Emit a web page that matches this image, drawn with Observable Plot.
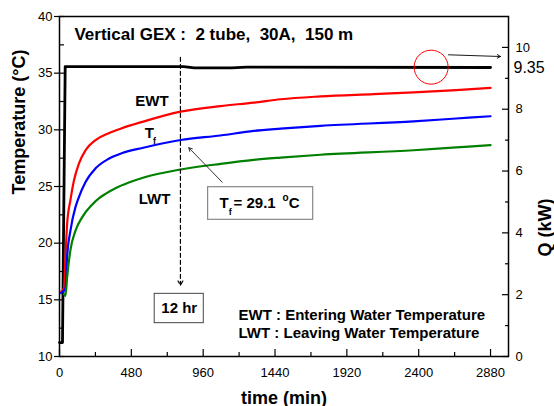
<!DOCTYPE html>
<html><head><meta charset="utf-8">
<script src="https://cdn.jsdelivr.net/npm/d3@7"></script>
<script src="https://cdn.jsdelivr.net/npm/@observablehq/plot@0.6"></script>
<style>
body{margin:0;background:#fff;}
svg{font-family:"Liberation Sans", Arial, sans-serif;}
</style></head><body><div id="chart"></div>
<script>
// ---- data (time in min, temperature in °C, Q in kW) ----
const ewtTime = [10, 29, 40, 51, 73, 96, 129, 174, 241, 329, 419, 553, 809, 1076, 1298, 1477, 1744, 2100, 2366, 2650, 2880];
const ewtVal  = [15.7, 16.0, 18.8, 21.7, 23.8, 25.5, 27.0, 28.2, 29.1, 29.7, 30.15, 30.7, 31.6, 32.1, 32.4, 32.7, 32.95, 33.15, 33.3, 33.5, 33.7];

const tfTime = [10, 40, 51, 73, 107, 122, 174, 241, 329, 419, 553, 809, 1076, 1298, 1477, 1744, 2366, 2650, 2880];
const tfVal  = [15.6, 16.0, 18.8, 21.1, 23.2, 23.8, 25.4, 26.6, 27.45, 27.95, 28.4, 29.1, 29.5, 29.9, 30.1, 30.35, 30.75, 31.0, 31.2];

const lwtTime = [29, 40, 51, 73, 107, 152, 218, 263, 307, 374, 463, 563, 809, 1076, 1298, 1477, 1744, 2366, 2650, 2880];
const lwtVal  = [15.5, 15.35, 17.0, 19.4, 21.1, 22.3, 23.4, 23.95, 24.35, 24.85, 25.35, 25.8, 26.5, 27.0, 27.35, 27.55, 27.8, 28.2, 28.45, 28.65];

const qTime = [0, 20, 38, 830, 900, 1150, 1250, 2880];
const qVal  = [0.45, 0.45, 9.38, 9.38, 9.34, 9.34, 9.36, 9.35];

const tempTicks  = [10, 15, 20, 25, 30, 35, 40];
const tempMinor  = [12.5, 17.5, 22.5, 27.5, 32.5, 37.5];
const qTicks     = [0, 2, 4, 6, 8, 10];
const qMinor     = [1, 3, 5, 7, 9];
const timeTicks  = [0, 480, 960, 1440, 1920, 2400, 2880];
const timeMinor  = [240, 720, 1200, 1680, 2160, 2640];

const titleText = "Vertical GEX :\u00a0 2 tube,\u00a0 30A,\u00a0 150 m";
const titlePos = [100, 37.97];
const seriesLabels = ["EWT", "T", "LWT"];
const seriesLabelTime = [618, 601, 635];
const seriesLabelTemp = [32.06, 29.24, 23.5];
const subF = {text: "f", t: 635, temp: 28.79};

const tfBox = {t1: 993, t2: 1695, temp1: 22.06, temp2: 24.94};
const tfBoxParts = [
  {text: "T", t: 1069, temp: 23.06, size: 15},
  {text: "f", t: 1131, temp: 22.5, size: 9},
  {text: "= 29.1", t: 1163, temp: 23.06, size: 15},
  {text: "o", t: 1490, temp: 23.75, size: 10},
  {text: "C", t: 1532, temp: 23.06, size: 15}
];
const tfArrow = {t1: 1087, temp1: 25.38, t2: 864, temp2: 28.42};
const hrLine = {t: 808, temp1: 36.4, temp2: 16.3};
const hrBox = {t1: 636, t2: 964, temp1: 12.94, temp2: 15.53, text: "12 hr", t: 800, temp: 14.24};
const legendLines = ["EWT : Entering Water Temperature", "LWT : Leaving Water Temperature"];
const legendTime = 1196;
const legendTemp = [13.26, 11.59];
const qMark = {label: "9.35", q: 9.35, circleT: 2483, circleTemp: 35.53,
  arrowT1: 2599, arrowTemp1: 36.62, arrowT2: 2946, arrowTemp2: 36.47};

// ---- mapping of Q onto the temperature scale ----
const T_MIN = 10, T_MAX = 40, Q_MAX = 11;
const qToT = q => T_MIN + q * (T_MAX - T_MIN) / Q_MAX;
const tToQ = v => (v - T_MIN) * Q_MAX / (T_MAX - T_MIN);

const rows = (ts, vs) => ts.map((t, i) => ({t, v: vs[i]}));
const blank = () => "";
const B = "bold";

const chart = Plot.plot({
  width: 554, height: 406,
  marginLeft: 59, marginRight: 46, marginTop: 16, marginBottom: 50,
  style: {fontFamily: '"Liberation Sans", Arial, sans-serif', fontSize: "13px", background: "white", color: "black", overflow: "visible"},
  x: {domain: [0, 3000]},
  y: {domain: [T_MIN, T_MAX]},
  marks: [
    // left axis
    Plot.axisY(tempTicks, {tickSize: 10, dx: 5, tickFormat: blank, strokeWidth: 1.2}),
    Plot.axisY(tempMinor, {tickSize: 5, dx: 5, tickFormat: blank, strokeWidth: 1.2}),
    Plot.axisY(tempTicks, {tickSize: 0, tickPadding: 7, fontSize: 13, tickFormat: d3.format("d")}),
    // right axis (Q)
    Plot.axisY(qTicks.map(qToT), {anchor: "right", tickSize: 7, dx: -7, tickFormat: blank, strokeWidth: 1.2}),
    Plot.axisY(qMinor.map(qToT), {anchor: "right", tickSize: 4, dx: -4, tickFormat: blank, strokeWidth: 1.2}),
    Plot.axisY(qTicks.map(qToT), {anchor: "right", tickSize: 0, tickPadding: 7, fontSize: 13,
      tickFormat: v => String(Math.round(tToQ(v)))}),
    // bottom axis
    Plot.axisX(timeTicks, {tickSize: 7, dy: -7, tickFormat: blank, strokeWidth: 1.2}),
    Plot.axisX(timeMinor, {tickSize: 4, dy: -4, tickFormat: blank, strokeWidth: 1.2}),
    Plot.axisX(timeTicks, {tickSize: 0, tickPadding: 11, fontSize: 13, tickFormat: d3.format("d")}),
    Plot.frame({stroke: "black", strokeWidth: 1.5}),
    // axis titles
    Plot.text(["Temperature (°C)"], {text: d => d, frameAnchor: "left", rotate: -90, dx: -40, dy: 8, fontSize: 18, fontWeight: B}),
    Plot.text(["Q (kW)"], {text: d => d, frameAnchor: "right", rotate: -90, dx: 37, dy: 12, fontSize: 18, fontWeight: B}),
    Plot.text(["time (min)"], {text: d => d, frameAnchor: "bottom", lineAnchor: "bottom", dy: 47, fontSize: 18, fontWeight: B}),
    // series
    Plot.line(rows(qTime, qVal.map(qToT)), {x: "t", y: "v", stroke: "black", strokeWidth: 2.8}),
    Plot.line(rows(ewtTime, ewtVal), {x: "t", y: "v", stroke: "#ff0000", strokeWidth: 2.2, curve: "monotone-x"}),
    Plot.line(rows(tfTime, tfVal), {x: "t", y: "v", stroke: "#0000ff", strokeWidth: 2.2, curve: "monotone-x"}),
    Plot.line(rows(lwtTime, lwtVal), {x: "t", y: "v", stroke: "#008000", strokeWidth: 2.2, curve: "monotone-x"}),
    // title
    Plot.text([titleText], {text: d => d, x: titlePos[0], y: titlePos[1], textAnchor: "start", lineAnchor: "bottom", fontSize: 17, fontWeight: B}),
    // series labels
    Plot.text(seriesLabels, {text: d => d, x: (d, i) => seriesLabelTime[i], y: (d, i) => seriesLabelTemp[i], lineAnchor: "bottom", fontSize: 15, fontWeight: B}),
    Plot.text([subF], {text: "text", x: "t", y: "temp", lineAnchor: "bottom", fontSize: 9, fontWeight: B}),
    // 12 hr dashed arrow and box
    Plot.arrow([hrLine], {x1: "t", x2: "t", y1: "temp1", y2: "temp2", stroke: "black", strokeWidth: 1.2, strokeDasharray: "4,3", headLength: 6}),
    Plot.rect([hrBox], {x1: "t1", x2: "t2", y1: "temp1", y2: "temp2", fill: "white", stroke: "#444", strokeWidth: 1}),
    Plot.text([hrBox], {text: "text", x: "t", y: "temp", fontSize: 15, fontWeight: B}),
    // Tf annotation
    Plot.arrow([tfArrow], {x1: "t1", y1: "temp1", x2: "t2", y2: "temp2", stroke: "black", strokeWidth: 0.8, headLength: 7}),
    Plot.rect([tfBox], {x1: "t1", x2: "t2", y1: "temp1", y2: "temp2", fill: "white", stroke: "#888", strokeWidth: 1.2}),
    Plot.text(tfBoxParts, {text: "text", x: "t", y: "temp", textAnchor: "start", lineAnchor: "bottom", fontSize: d => d.size, fontWeight: B}),
    // legend text
    Plot.text(legendLines, {text: d => d, x: legendTime, y: (d, i) => legendTemp[i], textAnchor: "start", lineAnchor: "bottom", fontSize: 15, fontWeight: B}),
    // Q marker
    Plot.dot([qMark], {x: "circleT", y: "circleTemp", r: 17, stroke: "#ff0000", fill: "none", strokeWidth: 1}),
    Plot.arrow([qMark], {x1: "arrowT1", y1: "arrowTemp1", x2: "arrowT2", y2: "arrowTemp2", stroke: "black", strokeWidth: 0.9, headLength: 6}),
    Plot.text([qMark], {text: "label", x: 3000, y: d => qToT(d.q), dx: 5, textAnchor: "start", fontSize: 16})
  ]
});
document.getElementById("chart").appendChild(chart);
</script></body></html>
